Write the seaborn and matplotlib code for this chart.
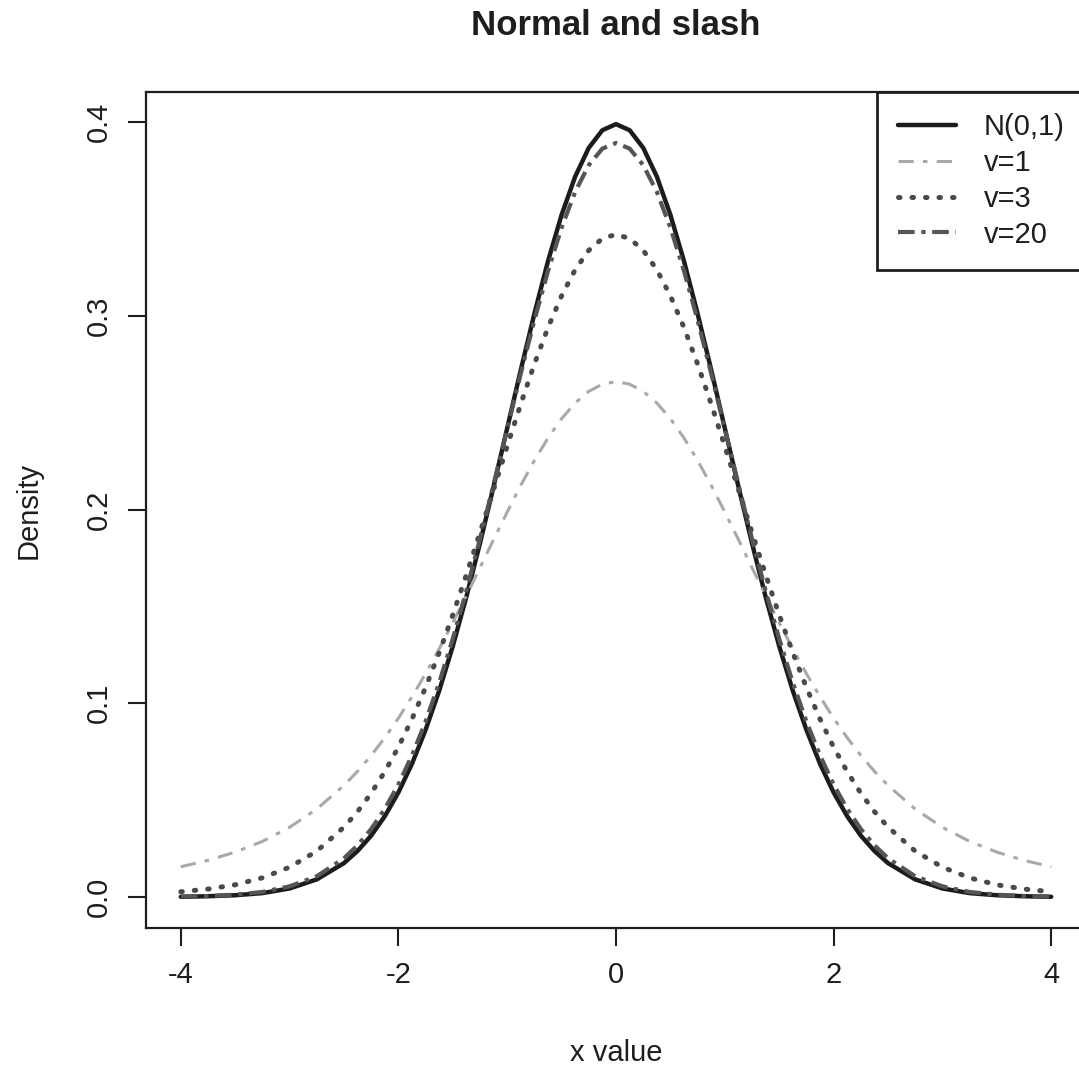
import matplotlib
matplotlib.use("Agg")
import matplotlib.pyplot as plt
import seaborn as sns
import pandas as pd

# ---- data ----
x_vals = [-4.0, -3.75, -3.5, -3.25, -3.0, -2.75, -2.5, -2.375, -2.25, -2.125,
          -2.0, -1.875, -1.75, -1.625, -1.5, -1.375, -1.25, -1.125, -1.0, -0.875,
          -0.75, -0.625, -0.5, -0.375, -0.25, -0.125, 0.0,
          0.125, 0.25, 0.375, 0.5, 0.625, 0.75, 0.875, 1.0, 1.125, 1.25,
          1.375, 1.5, 1.625, 1.75, 1.875, 2.0, 2.125, 2.25, 2.375, 2.5,
          2.75, 3.0, 3.25, 3.5, 3.75, 4.0]

normal_vals = [0.0001, 0.0004, 0.0009, 0.0020, 0.0044, 0.0091, 0.0175, 0.0238, 0.0317, 0.0417,
               0.0540, 0.0688, 0.0863, 0.1065, 0.1295, 0.1550, 0.1826, 0.2119, 0.2420, 0.2721,
               0.3011, 0.3282, 0.3521, 0.3719, 0.3867, 0.3958, 0.3989,
               0.3958, 0.3867, 0.3719, 0.3521, 0.3282, 0.3011, 0.2721, 0.2420, 0.2119, 0.1826,
               0.1550, 0.1295, 0.1065, 0.0863, 0.0688, 0.0540, 0.0417, 0.0317, 0.0238, 0.0175,
               0.0091, 0.0044, 0.0020, 0.0009, 0.0004, 0.0001]

v1_vals = [0.0156, 0.0189, 0.0232, 0.0287, 0.0360, 0.0454, 0.0576, 0.0649, 0.0731, 0.0822,
           0.0923, 0.1034, 0.1153, 0.1281, 0.1416, 0.1556, 0.1700, 0.1845, 0.1987, 0.2125,
           0.2253, 0.2369, 0.2469, 0.2550, 0.2610, 0.2647, 0.2660,
           0.2647, 0.2610, 0.2550, 0.2469, 0.2369, 0.2253, 0.2125, 0.1987, 0.1845, 0.1700,
           0.1556, 0.1416, 0.1281, 0.1153, 0.1034, 0.0923, 0.0822, 0.0731, 0.0649, 0.0576,
           0.0454, 0.0360, 0.0287, 0.0232, 0.0189, 0.0156]

v3_vals = [0.0027, 0.0041, 0.0063, 0.0099, 0.0154, 0.0237, 0.0361, 0.0441, 0.0536, 0.0647,
           0.0774, 0.0919, 0.1082, 0.1261, 0.1456, 0.1664, 0.1881, 0.2104, 0.2327, 0.2545,
           0.2751, 0.2939, 0.3103, 0.3238, 0.3338, 0.3399, 0.3420,
           0.3399, 0.3338, 0.3238, 0.3103, 0.2939, 0.2751, 0.2545, 0.2327, 0.2104, 0.1881,
           0.1664, 0.1456, 0.1261, 0.1082, 0.0919, 0.0774, 0.0647, 0.0536, 0.0441, 0.0361,
           0.0237, 0.0154, 0.0099, 0.0063, 0.0041, 0.0027]

v20_vals = [0.0002, 0.0005, 0.0012, 0.0026, 0.0055, 0.0107, 0.0200, 0.0267, 0.0351, 0.0455,
            0.0581, 0.0731, 0.0906, 0.1107, 0.1333, 0.1582, 0.1849, 0.2130, 0.2417, 0.2702,
            0.2977, 0.3231, 0.3455, 0.3640, 0.3778, 0.3863, 0.3892,
            0.3863, 0.3778, 0.3640, 0.3455, 0.3231, 0.2977, 0.2702, 0.2417, 0.2130, 0.1849,
            0.1582, 0.1333, 0.1107, 0.0906, 0.0731, 0.0581, 0.0455, 0.0351, 0.0267, 0.0200,
            0.0107, 0.0055, 0.0026, 0.0012, 0.0005, 0.0002]

series_labels = ["N(0,1)", "v=1", "v=3", "v=20"]
x_ticks = [-4, -2, 0, 2, 4]
x_tick_labels = ["-4", "-2", "0", "2", "4"]
y_ticks = [0.0, 0.1, 0.2, 0.3, 0.4]
y_tick_labels = ["0.0", "0.1", "0.2", "0.3", "0.4"]
title_text = "Normal and slash"
x_label = "x value"
y_label = "Density"

# ---- style ----
sns.set_theme(style="white")
plt.rcParams["font.family"] = ["Liberation Sans", "DejaVu Sans"]
plt.rcParams["text.color"] = "#1e1e1e"

fig = plt.figure(figsize=(10.79, 10.68), dpi=100)
W, H = 1079, 1068
ax_left, ax_right, ax_top, ax_bottom = 146, 1086, 92, 928
ax = fig.add_axes([ax_left / W, 1 - ax_bottom / H,
                   (ax_right - ax_left) / W, (ax_bottom - ax_top) / H])

styles = [
    dict(color="#1c1c1c", linewidth=3.2, linestyle="-"),
    dict(color="#a9a9a9", linewidth=2.2, linestyle=(0, (5, 3, 1.5, 3))),
    dict(color="#4a4a4a", linewidth=3.6, linestyle=(0, (0.3, 2.4)),
         dash_capstyle="round"),
    dict(color="#555555", linewidth=3.0, linestyle=(0, (4, 1.6, 1, 1.6))),
]

all_vals = [normal_vals, v1_vals, v3_vals, v20_vals]
for lab, vals, st in zip(series_labels, all_vals, styles):
    df = pd.DataFrame({"x": x_vals, "density": vals})
    sns.lineplot(data=df, x="x", y="density", ax=ax, label=lab,
                 estimator=None, sort=False, **st)

ax.set_xlim(-4.32, 4.32)
ax.set_ylim(-0.016, 0.4155)
ax.set_xticks(x_ticks)
ax.set_xticklabels(x_tick_labels)
ax.set_yticks(y_ticks)
ax.set_yticklabels(y_tick_labels, rotation=90, va="center")

for sp in ax.spines.values():
    sp.set_visible(True)
    sp.set_linewidth(1.6)
    sp.set_color("#1e1e1e")

ax.tick_params(axis="both", direction="out", length=13, width=1.5,
               colors="#1e1e1e", labelsize=21, pad=11,
               bottom=True, left=True, top=False, right=False)

ax.set_title(title_text, fontsize=25, fontweight="bold", pad=41, color="#1e1e1e")
ax.set_xlabel(x_label, fontsize=21, color="#1e1e1e")
ax.xaxis.label.set_va("baseline")
ax.xaxis.set_label_coords(0.5, (ax_bottom - 1061) / (ax_bottom - ax_top))
ax.set_ylabel(y_label, fontsize=21, color="#1e1e1e")
ax.yaxis.label.set_va("center")
ax.yaxis.set_label_coords((29 - ax_left) / (ax_right - ax_left), 0.5)

leg = ax.legend(loc="upper right", frameon=True, fancybox=False,
                edgecolor="#1e1e1e", borderaxespad=0, fontsize=21,
                handlelength=2.0, handletextpad=0.95, labelspacing=0.27,
                borderpad=0.72, framealpha=1)
leg.get_frame().set_linewidth(2.0)

fig.savefig("out.png", dpi=100, facecolor="white")
